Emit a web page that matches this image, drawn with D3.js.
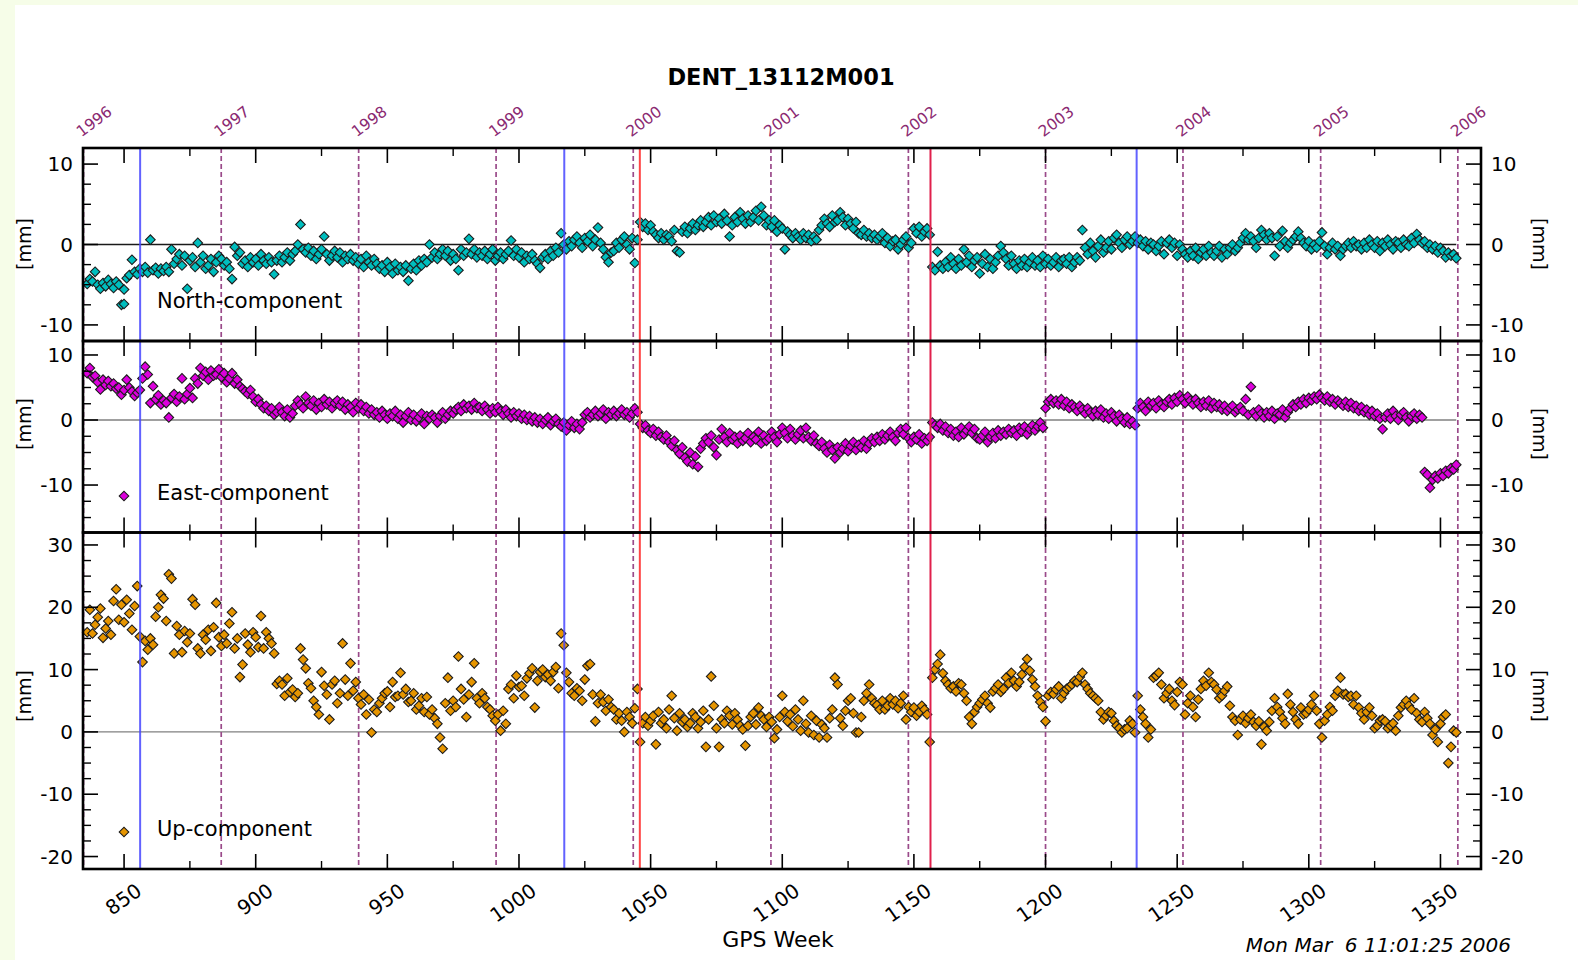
<!DOCTYPE html>
<html>
<head>
<meta charset="utf-8">
<script src="https://cdn.jsdelivr.net/npm/d3@7"></script>
<style>
  html, body { margin: 0; padding: 0; background: #f6fde8; }
  svg { display: block; }
  text { font-family: "DejaVu Sans", sans-serif; }
</style>
</head>
<body>
<div id="chart"></div>
<script>
// ======================================================
// GPS station time series DENT_13112M001 (North / East / Up)
// ======================================================

// --- Data: weekly residuals in mm, first value is GPS week 836 ---
const firstWeek = 836;

const northValues = [
  -4.9,-4.3,-4.6,-3.4,-5.0,-5.5,-4.8,-5.2,-4.4,-4.9,
  -5.4,-4.6,-5.0,-7.5,-5.6,-4.2,-3.8,-1.9,-3.4,-3.7,
  -3.0,-3.4,-2.8,-3.5,0.6,-3.2,-2.9,-3.6,-3.0,-3.3,
  -2.8,-3.4,-0.6,-2.4,-1.8,-1.2,-2.6,-1.4,-5.5,-2.0,
  -1.6,-2.8,0.2,-2.2,-1.4,-3.0,-2.6,-1.8,-3.4,-2.2,
  -1.4,-1.8,-2.6,-2.2,-3.0,-4.3,-0.3,-1.4,-1.0,-2.4,
  -2.0,-2.8,-1.6,-2.2,-1.8,-2.6,-1.2,-2.0,-2.4,-1.6,
  -2.2,-3.7,-2.0,-1.4,-2.2,-1.6,-1.0,-2.0,-1.2,-0.8,
  0.0,2.5,-0.6,-1.0,-0.4,-1.4,-0.8,-1.8,-1.2,-0.6,
  1.0,-1.2,-2.0,-1.4,-0.8,-1.6,-1.0,-2.2,-1.4,-1.8,
  -1.2,-2.0,-1.6,-2.4,-1.8,-2.8,-1.4,-2.2,-2.6,-1.8,
  -2.4,-3.0,-2.6,-3.4,-2.2,-2.8,-3.6,-2.4,-3.2,-2.8,
  -3.4,-2.6,-4.5,-3.0,-2.4,-3.2,-2.0,-2.6,-1.8,-2.2,
  0.0,-1.6,-1.0,-1.8,-1.2,-0.6,-1.4,-0.8,-2.0,-1.2,
  -1.8,-3.2,-0.6,-1.4,-1.0,0.7,-1.2,-0.6,-1.6,-1.0,
  -1.4,-0.8,-1.8,-1.2,-0.6,-2.0,-1.4,-1.0,-1.8,-1.2,
  -0.8,0.5,-1.4,-0.6,-1.6,-1.0,-2.2,-1.4,-1.8,-1.2,
  -2.0,-2.4,-2.9,-1.6,-1.2,-1.8,-0.8,-1.4,-0.4,-1.0,
  1.4,0.0,-0.6,0.4,-0.2,0.6,1.0,0.2,-0.4,0.8,
  0.4,1.2,-0.2,0.6,2.1,0.2,-0.6,-1.6,-2.2,-1.0,
  -0.8,0.2,-0.4,0.6,1.0,0.0,-0.6,0.8,-2.3,0.6,
  2.8,2.2,2.6,1.8,2.4,1.6,1.2,0.8,1.4,0.6,
  1.2,1.0,0.4,1.8,-0.8,-1.0,1.6,2.2,1.4,2.0,
  2.6,1.8,2.4,3.0,2.2,2.8,3.4,2.4,3.6,2.8,
  3.2,2.6,3.8,3.0,1.0,2.4,3.4,2.8,4.0,3.2,
  2.6,3.6,2.8,3.4,4.2,3.0,4.7,3.6,2.4,3.0,
  2.2,3.0,1.6,2.4,2.0,-0.6,1.6,1.2,0.8,1.4,
  1.0,0.6,1.4,0.8,1.2,0.4,1.0,0.6,1.8,2.4,
  3.2,2.6,2.2,3.6,2.8,3.0,4.0,3.4,2.4,3.2,
  2.6,2.0,2.8,1.4,1.2,1.8,1.0,1.4,0.8,1.2,
  0.6,1.0,1.4,0.2,0.8,-0.2,0.4,0.6,-0.6,0.0,
  0.6,1.0,-0.4,0.2,2.0,1.4,2.2,1.0,1.6,2.0,
  1.2,-2.8,-3.2,-0.9,-2.6,-3.0,-2.2,-2.8,-1.6,-2.4,
  -3.0,-1.8,-2.6,-0.6,-2.2,-1.4,-2.8,-2.0,-1.6,-3.6,
  -2.4,-1.2,-2.8,-1.8,-3.0,-2.2,-1.4,-0.2,-1.0,-1.8,
  -2.6,-1.4,-2.4,-3.0,-2.0,-2.6,-1.8,-2.8,-2.2,-1.6,
  -2.6,-2.0,-2.8,-1.4,-2.4,-1.8,-2.6,-2.2,-1.6,-2.8,
  -2.0,-1.8,-2.4,-1.6,-2.8,-2.2,-1.6,-2.0,1.8,-0.4,
  -1.2,0.2,-0.8,-1.6,-0.2,0.6,-1.0,-0.4,0.4,-0.6,
  0.8,1.2,0.2,-0.4,0.6,1.0,0.0,0.4,1.0,0.2,
  0.6,-0.2,0.4,-0.6,0.2,0.0,-0.8,-0.2,0.4,-1.2,
  0.2,0.6,-0.4,0.2,-1.4,0.0,-0.6,-1.2,-1.6,-0.8,
  -1.4,-0.4,-1.8,-1.0,-0.6,-1.4,-0.2,-1.0,-1.4,-0.8,
  -0.2,-1.6,-0.6,-1.2,-0.4,0.0,-0.8,-0.4,0.2,0.8,
  1.4,0.6,1.0,0.4,-0.4,0.8,1.8,1.2,0.6,1.4,
  0.8,-1.4,1.0,-0.2,1.7,0.4,-0.4,0.2,0.6,1.0,
  1.6,0.8,0.2,-0.2,0.4,-0.6,0.0,-0.4,0.4,1.5,
  -0.2,-1.2,-0.4,0.2,-0.6,-0.2,-1.4,-0.6,-0.2,0.2,
  -0.4,0.4,-0.2,0.0,-0.6,0.2,-0.4,0.6,0.0,-0.4,
  0.4,-0.8,0.2,-0.2,0.6,0.0,-0.6,0.4,0.2,-0.4,
  0.6,0.0,-0.2,0.8,0.2,1.3,0.6,0.2,0.4,-0.4,
  0.0,-0.6,-0.2,-1.0,-0.4,-0.8,-1.6,-1.0,-1.4,-1.2,
  -1.7
];

const eastValues = [
  7.2,8.0,6.6,6.8,5.8,4.7,6.2,5.4,6.0,5.2,
  5.6,4.8,5.0,3.9,4.6,6.2,5.0,4.4,3.7,4.2,
  4.6,6.4,8.2,7.0,2.6,5.2,3.2,3.8,2.4,3.0,
  2.6,0.4,3.4,4.0,2.8,3.6,6.4,3.2,4.0,4.9,
  3.4,6.4,5.6,8.0,6.8,7.4,6.2,7.6,6.8,7.0,
  7.8,6.6,7.2,5.8,6.4,7.2,5.6,6.2,5.2,4.8,
  4.4,4.0,4.6,3.6,2.8,3.2,2.4,1.8,2.2,1.4,
  1.8,0.8,1.2,2.0,1.2,0.6,1.6,0.4,1.0,2.2,
  3.0,2.4,1.8,3.6,2.6,2.2,3.0,1.6,2.6,2.0,
  3.2,2.4,2.8,1.8,2.6,3.0,2.2,2.8,1.6,2.4,
  2.0,1.2,2.6,1.8,2.4,1.4,2.0,1.0,1.6,0.8,
  1.2,0.4,1.4,0.8,0.2,1.0,0.6,1.4,0.2,0.8,
  -0.4,0.6,1.2,0.0,0.8,-0.2,0.4,1.0,-0.6,0.6,
  0.2,0.8,0.4,-0.4,0.6,1.2,0.2,0.8,1.4,1.0,
  1.6,2.0,1.4,2.4,1.8,2.2,1.6,2.6,1.8,2.0,
  1.4,2.2,1.6,1.0,1.8,1.2,2.0,1.4,0.8,1.6,
  1.0,0.4,1.2,0.6,1.0,0.2,0.8,0.0,0.6,-0.2,
  0.4,-0.4,0.2,-0.6,0.0,0.4,-0.8,-0.2,0.2,-0.6,
  -1.0,-0.4,-1.6,-0.8,-0.2,-1.2,-0.6,-1.4,-0.4,0.8,
  1.2,0.4,0.8,1.4,0.6,1.0,1.6,0.2,1.2,0.8,
  1.4,0.6,1.0,1.6,0.8,1.2,0.4,1.0,1.8,1.2,
  -0.6,-1.2,-0.8,-1.6,-2.0,-1.4,-2.4,-1.8,-2.6,-3.0,
  -2.4,-3.4,-4.0,-3.2,-4.6,-5.2,-4.2,-5.8,-6.4,-5.0,
  -6.8,-5.6,-7.2,-4.4,-3.6,-2.8,-3.4,-2.4,-4.2,-5.4,
  -3.0,-1.4,-2.6,-3.4,-2.0,-3.0,-2.6,-3.6,-2.4,-3.2,
  -2.8,-2.0,-3.4,-2.6,-3.0,-1.8,-3.6,-2.4,-3.2,-2.8,
  -1.8,-2.6,-3.4,-2.2,-1.2,-2.0,-2.8,-1.4,-2.4,-3.0,
  -2.2,-1.6,-2.8,-1.2,-2.6,-3.2,-2.4,-3.6,-4.0,-3.4,
  -4.4,-5.0,-3.8,-4.6,-5.9,-4.2,-5.0,-4.4,-3.6,-4.8,
  -4.0,-3.4,-4.6,-3.8,-4.2,-3.2,-4.4,-3.6,-2.8,-3.4,
  -2.6,-3.2,-2.2,-3.0,-2.4,-1.8,-2.6,-3.2,-2.0,-1.4,
  -2.2,-1.2,-2.8,-3.4,-2.6,-3.0,-2.2,-3.6,-2.8,-3.2,
  -2.6,-0.4,-0.8,-1.2,-0.6,-1.6,-1.0,-2.0,-1.4,-2.4,
  -1.8,-2.6,-1.2,-2.2,-1.6,-1.0,-2.0,-1.4,-2.8,-3.0,
  -2.4,-1.8,-3.4,-2.6,-2.0,-2.8,-1.6,-2.4,-1.8,-2.2,
  -1.4,-2.0,-1.6,-2.4,-1.2,-1.8,-1.0,-2.2,-1.4,-0.8,
  -1.6,-1.0,-0.4,-1.2,1.8,2.8,3.2,2.6,3.0,2.4,
  3.2,2.2,2.8,1.8,2.4,2.0,1.4,2.2,1.6,1.0,
  1.8,1.2,0.6,1.4,0.8,1.6,0.4,1.0,0.2,1.2,
  0.6,-0.2,0.8,0.2,-0.4,0.4,-0.6,-0.2,-0.8,1.8,
  2.6,2.0,1.4,2.8,2.2,2.6,1.8,3.0,2.4,2.0,
  2.8,3.2,2.4,3.4,2.8,3.8,3.2,2.6,3.6,3.0,
  2.4,3.2,2.6,2.0,2.8,2.2,3.0,1.8,2.6,2.0,
  2.4,1.6,2.2,1.4,1.8,2.2,1.2,1.6,2.0,1.4,
  3.2,0.8,5.1,1.2,0.6,1.6,1.0,0.4,1.2,0.6,
  1.4,0.2,1.0,0.8,1.6,0.4,1.2,1.8,2.4,2.0,
  2.8,2.4,3.2,2.6,3.4,3.0,3.6,3.2,3.9,3.4,
  3.0,3.6,2.8,3.2,2.4,3.0,2.6,2.2,2.8,2.0,
  2.6,1.8,2.2,1.4,2.0,1.2,1.6,0.8,1.4,0.6,
  1.0,0.2,-1.4,0.4,1.0,0.2,1.4,0.6,0.0,0.8,
  1.2,0.4,-0.2,0.6,1.0,0.2,0.8,0.4,-8.0,-8.4,
  -10.4,-9.2,-8.6,-9.0,-8.2,-8.6,-7.8,-8.2,-7.4,-7.6,
  -6.9
];

const upValues = [
  16.0,19.6,15.8,17.2,18.4,19.8,15.1,16.6,17.8,15.6,
  21.0,22.9,18.0,20.4,17.6,21.2,19.0,16.4,20.2,23.4,
  15.3,11.2,14.6,13.2,15.0,14.0,18.5,20.0,22.0,21.4,
  17.8,25.3,24.6,12.6,17.0,15.6,12.8,16.2,14.4,15.8,
  21.3,20.4,13.4,12.6,15.6,14.8,16.4,13.0,16.8,20.7,
  15.2,13.8,15.6,14.2,17.4,19.2,13.4,15.0,8.8,10.8,
  15.8,14.0,12.8,16.0,15.2,13.6,18.6,13.4,16.0,15.0,
  14.2,12.6,7.7,8.2,7.6,5.8,8.6,6.4,6.8,5.6,
  6.2,13.4,11.6,10.2,7.8,7.0,5.0,4.0,2.8,9.6,
  7.4,6.0,2.0,7.6,8.2,4.6,6.2,14.2,8.4,5.8,
  11.0,6.6,8.0,5.4,4.4,6.0,2.8,5.2,-0.1,3.6,
  3.2,4.6,5.4,6.2,6.5,4.0,8.0,5.6,5.8,9.5,
  6.0,6.9,4.8,5.0,6.2,3.6,4.2,5.4,3.2,5.6,
  2.8,3.6,2.2,1.3,-0.9,-2.7,4.6,8.7,3.4,5.0,
  4.0,12.1,6.9,5.2,2.4,6.0,8.0,11.0,5.4,4.6,
  6.2,5.4,4.0,3.6,2.6,1.8,2.8,0.2,3.4,1.3,
  6.9,7.6,5.4,9.0,7.2,7.4,5.8,8.6,9.4,10.2,
  3.9,8.2,9.6,10.0,8.8,9.2,8.2,9.6,10.4,7.0,
  15.8,13.9,9.5,8.0,6.2,5.8,7.0,6.6,5.0,8.4,
  10.6,10.9,6.0,1.7,4.6,6.0,4.8,3.4,5.2,4.0,
  3.6,2.0,3.0,1.8,0.0,3.2,2.4,1.4,3.8,6.9,
  -1.6,1.4,2.4,1.0,1.8,2.6,-2.0,3.2,1.4,2.0,
  0.6,3.6,5.8,2.2,0.2,3.0,1.6,2.0,0.8,1.4,
  3.0,2.4,0.6,1.6,3.4,-2.4,2.0,8.9,4.2,0.6,
  -2.4,2.0,1.4,3.4,2.6,1.2,3.0,2.0,1.0,0.4,
  -2.2,1.0,2.4,3.0,1.2,3.9,2.6,2.0,0.8,2.4,
  1.6,-1.0,0.4,2.4,5.8,3.2,1.7,2.8,0.9,3.6,
  2.0,0.2,5.0,1.3,-0.1,2.6,-0.5,1.8,-0.9,1.2,
  0.6,-0.9,2.2,3.6,8.7,7.6,2.2,1.0,3.4,5.0,
  5.4,3.0,-0.1,-0.1,2.4,5.0,6.2,7.6,5.4,4.6,
  4.3,3.6,5.0,3.6,4.2,5.4,4.4,5.0,3.8,4.6,
  5.8,2.0,4.0,3.2,3.9,2.6,3.2,4.2,3.6,2.8,
  -1.6,8.7,10.0,10.9,12.4,9.4,8.2,7.6,7.0,7.3,
  6.5,7.8,7.6,6.2,5.0,2.4,1.3,3.2,4.0,4.6,
  5.2,5.8,4.6,3.9,6.5,7.0,7.6,6.4,6.9,8.7,
  7.8,9.5,8.2,7.3,8.0,9.2,10.4,11.7,9.8,8.4,
  7.3,5.8,4.8,4.0,1.7,5.8,6.4,6.1,6.8,7.3,
  5.4,6.2,6.9,7.2,7.6,8.2,8.0,8.8,9.5,7.6,
  6.9,6.2,5.8,5.4,5.0,3.2,2.0,2.6,3.2,3.0,
  1.8,1.0,0.6,-0.1,0.4,0.6,1.8,1.3,-0.1,5.8,
  3.6,2.4,1.3,-0.9,0.4,8.7,9.0,9.5,7.6,5.4,
  6.2,6.9,5.0,4.3,6.4,8.0,7.6,2.8,4.6,5.8,
  4.0,2.4,5.2,6.9,8.2,7.4,9.5,8.0,7.6,6.8,
  5.4,5.8,6.6,7.3,4.2,2.4,1.8,-0.5,2.0,2.6,
  1.4,2.2,2.8,1.6,1.0,1.7,-2.0,0.8,0.2,1.6,
  3.4,5.4,4.0,3.2,2.2,1.3,6.1,4.4,3.2,2.0,
  1.3,3.9,2.8,3.0,3.6,4.4,5.8,3.4,1.3,-0.9,
  1.8,2.8,4.0,3.4,5.8,6.6,8.7,6.0,6.1,5.6,
  5.8,4.4,5.8,3.9,3.0,2.0,3.2,3.9,2.6,0.6,
  1.0,1.8,2.0,1.7,0.6,1.0,1.4,0.2,2.6,3.9,
  4.4,5.0,4.2,3.6,5.4,3.0,2.0,1.6,3.2,2.2,
  1.3,-0.5,0.4,-1.6,1.3,2.4,2.8,-5.0,-2.4,0.2,
  -0.1
];

// --- Axis annotations ---
const weekTicks = [850, 900, 950, 1000, 1050, 1100, 1150, 1200, 1250, 1300, 1350];
const weekMinorTicks = [875, 925, 975, 1025, 1075, 1125, 1175, 1225, 1275, 1325];
const yearLabels = ["1996", "1997", "1998", "1999", "2000", "2001", "2002", "2003", "2004", "2005", "2006"];
const yearWeeks = [834.6, 886.9, 939.1, 991.3, 1043.4, 1095.7, 1147.9, 1200.0, 1252.2, 1304.5, 1356.6];
const blueWeeks = [856.1, 1017.2, 1234.6];
const redWeeks = [1045.9, 1156.3];
const northTicks = [-10, 0, 10];
const eastTicks = [-10, 0, 10];
const upTicks = [-20, -10, 0, 10, 20, 30];

// --- Layout ---
const width = 1578, height = 960;
const plotLeft = 83, plotRight = 1481, plotTop = 148, plotBottom = 869;

const panels = [
  { name: "North-component", values: northValues, ticks: northTicks, domain: [-12, 12],
    y0: 148, y1: 341, fill: "#00bebe", zero: "#1a1a1a", legendY: 304, unitY: 244, unitYR: 244 },
  { name: "East-component", values: eastValues, ticks: eastTicks, domain: [-17.3, 12.15],
    y0: 341, y1: 532.5, fill: "#dc00dc", zero: "#808080", legendY: 496, unitY: 424, unitYR: 434 },
  { name: "Up-component", values: upValues, ticks: upTicks, domain: [-22, 32],
    y0: 532.5, y1: 869, fill: "#e69500", zero: "#808080", legendY: 832, unitY: 696, unitYR: 696 }
];

const x = d3.scaleLinear().domain([834.4, 1365.4]).range([plotLeft, plotRight]);

const svg = d3.select("#chart").append("svg")
  .attr("width", width)
  .attr("height", height);

svg.append("rect").attr("width", width).attr("height", height).attr("fill", "#f6fde8");
svg.append("rect").attr("x", 15).attr("y", 5)
  .attr("width", width - 15).attr("height", height - 5).attr("fill", "#ffffff");

const diamond = d3.symbol(d3.symbolSquare, 46);
const lastWeek = firstWeek + northValues.length - 1;

// --- Zero lines ---
panels.forEach(p => {
  p.y = d3.scaleLinear().domain(p.domain).range([p.y1, p.y0]);
  svg.append("line")
    .attr("x1", plotLeft).attr("x2", x(lastWeek))
    .attr("y1", p.y(0)).attr("y2", p.y(0))
    .attr("stroke", p.zero).attr("stroke-width", 1.4);
});

// --- Year boundaries (dashed) ---
svg.append("g").selectAll("line")
  .data(yearWeeks)
  .join("line")
  .attr("x1", d => x(d)).attr("x2", d => x(d))
  .attr("y1", plotTop).attr("y2", plotBottom)
  .attr("stroke", "#9a4a8a")
  .attr("stroke-width", 1.7)
  .attr("stroke-dasharray", "5,3");

// --- Markers ---
panels.forEach(p => {
  const pts = p.values
    .map((v, i) => ({ week: firstWeek + i, value: v }))
    .filter(d => d.value !== null);
  svg.append("g").selectAll("path")
    .data(pts)
    .join("path")
    .attr("d", diamond)
    .attr("transform", d => `translate(${x(d.week)},${p.y(d.value)}) rotate(45)`)
    .attr("fill", p.fill)
    .attr("stroke", "#1c1c1c")
    .attr("stroke-width", 1.1);
});

// --- Event lines ---
svg.append("g").selectAll("line")
  .data(blueWeeks)
  .join("line")
  .attr("x1", d => x(d)).attr("x2", d => x(d))
  .attr("y1", plotTop).attr("y2", plotBottom)
  .attr("stroke", "#4646ff").attr("stroke-opacity", 0.85)
  .attr("stroke-width", 2);

svg.append("g").selectAll("line")
  .data(redWeeks)
  .join("line")
  .attr("x1", d => x(d)).attr("x2", d => x(d))
  .attr("y1", plotTop).attr("y2", plotBottom)
  .attr("stroke", (d, i) => i === 0 ? "#ff4646" : "#e0204c")
  .attr("stroke-width", 2);

// --- Ticks, frames and tick labels ---
panels.forEach(p => {
  const g = svg.append("g");
  const minorY = d3.range(Math.ceil(p.domain[0] / 2.5) * 2.5, p.domain[1], 2.5)
    .filter(v => p.ticks.indexOf(v) < 0);

  // y ticks, pointing inward on both sides
  [[plotLeft, 1], [plotRight, -1]].forEach(([xp, dir]) => {
    g.append("g").selectAll("line").data(p.ticks).join("line")
      .attr("x1", xp).attr("x2", xp + dir * 15)
      .attr("y1", d => p.y(d)).attr("y2", d => p.y(d))
      .attr("stroke", "#000").attr("stroke-width", 1.6);
    g.append("g").selectAll("line").data(minorY).join("line")
      .attr("x1", xp).attr("x2", xp + dir * 8)
      .attr("y1", d => p.y(d)).attr("y2", d => p.y(d))
      .attr("stroke", "#000").attr("stroke-width", 1.4);
  });

  // x ticks on top and bottom of each panel
  [[p.y0, 1], [p.y1, -1]].forEach(([yp, dir]) => {
    g.append("g").selectAll("line").data(weekTicks).join("line")
      .attr("x1", d => x(d)).attr("x2", d => x(d))
      .attr("y1", yp).attr("y2", yp + dir * 15)
      .attr("stroke", "#000").attr("stroke-width", 1.6);
    g.append("g").selectAll("line").data(weekMinorTicks).join("line")
      .attr("x1", d => x(d)).attr("x2", d => x(d))
      .attr("y1", yp).attr("y2", yp + dir * 8)
      .attr("stroke", "#000").attr("stroke-width", 1.4);
  });

  g.append("rect")
    .attr("x", plotLeft).attr("y", p.y0)
    .attr("width", plotRight - plotLeft).attr("height", p.y1 - p.y0)
    .attr("fill", "none").attr("stroke", "#000").attr("stroke-width", 2.6);

  g.append("g").selectAll("text").data(p.ticks).join("text")
    .attr("x", plotLeft - 10).attr("y", d => p.y(d))
    .attr("dy", "0.36em").attr("text-anchor", "end")
    .attr("font-size", 20).text(d => d);
  g.append("g").selectAll("text").data(p.ticks).join("text")
    .attr("x", plotRight + 10).attr("y", d => p.y(d))
    .attr("dy", "0.36em").attr("text-anchor", "start")
    .attr("font-size", 20).text(d => d);

  // unit labels
  g.append("text")
    .attr("transform", `translate(31,${p.unitY}) rotate(-90)`)
    .attr("text-anchor", "middle").attr("font-size", 19).text("[mm]");
  g.append("text")
    .attr("transform", `translate(1533,${p.unitYR}) rotate(90)`)
    .attr("text-anchor", "middle").attr("font-size", 19).text("[mm]");

  // legend
  g.append("path")
    .attr("d", diamond)
    .attr("transform", `translate(124,${p.legendY}) rotate(45)`)
    .attr("fill", p.fill).attr("stroke", "#1c1c1c").attr("stroke-width", 1.1);
  g.append("text")
    .attr("x", 157).attr("y", p.legendY + 4)
    .attr("font-size", 21).text(p.name);
});

// --- Year labels (top) ---
svg.append("g").selectAll("text")
  .data(yearLabels)
  .join("text")
  .attr("transform", (d, i) => `translate(${x(yearWeeks[i]) - 2},137.5) rotate(-37)`)
  .attr("font-size", 15.5)
  .attr("fill", "#8b2a72")
  .text(d => d);

// --- Week labels (bottom) ---
svg.append("g").selectAll("text")
  .data(weekTicks)
  .join("text")
  .attr("transform", d => `translate(${x(d) + 19},894) rotate(-35)`)
  .attr("text-anchor", "end")
  .attr("font-size", 20)
  .text(d => d);

// --- Titles ---
svg.append("text")
  .attr("x", 781).attr("y", 85)
  .attr("text-anchor", "middle")
  .attr("font-size", 22.5).attr("font-weight", "bold")
  .text("DENT_13112M001");

svg.append("text")
  .attr("x", 778).attr("y", 947)
  .attr("text-anchor", "middle")
  .attr("font-size", 22)
  .text("GPS Week");

svg.append("text")
  .attr("x", 1511).attr("y", 952)
  .attr("text-anchor", "end")
  .attr("font-size", 20).attr("font-style", "italic")
  .attr("xml:space", "preserve")
  .text("Mon Mar  6 11:01:25 2006");
</script>
</body>
</html>
